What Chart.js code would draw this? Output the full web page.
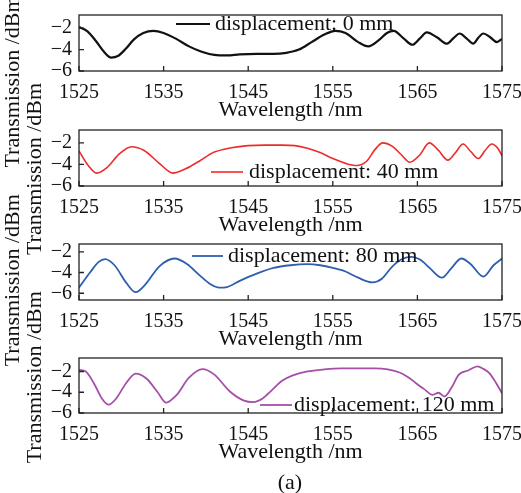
<!DOCTYPE html>
<html>
<head>
  <title>Transmission spectra</title>
  <script src="https://cdn.jsdelivr.net/npm/chart.js"></script>
  <style>
    body { margin: 0; background: #fff; }
    #wrap { position: relative; width: 521px; height: 493px; }
    #wrap canvas { position: absolute; left: 0; top: 0; }
    #cap { position: absolute; left: 240px; width: 100px; top: 469px; text-align: center;
           font: 22px "Liberation Serif"; color: #111; }
  </style>
</head>
<body>
  <div id="wrap">
    <canvas id="c0" width="521" height="493"></canvas>
    <canvas id="c1" width="521" height="493"></canvas>
    <canvas id="c2" width="521" height="493"></canvas>
    <canvas id="c3" width="521" height="493"></canvas>
    <div id="cap">(a)</div>
  </div>

  <script>
    // data
    var xTicks = [1525, 1535, 1545, 1555, 1565, 1575];
    var yTicks = [-6, -4, -2];
    var labels = ['displacement: 0 mm', 'displacement: 40 mm', 'displacement: 80 mm', 'displacement: 120 mm'];

    var wl0 = [1525, 1526, 1527, 1528, 1528.8, 1529.6, 1530.5, 1531.5, 1532.6, 1533.8, 1535, 1536.5, 1538, 1539.5, 1541, 1542.5, 1544, 1546, 1548, 1549.5, 1551, 1552.5, 1554, 1555.3, 1556.5, 1558, 1559.2, 1560.4, 1561.4, 1562.2, 1563.3, 1564.4, 1565.3, 1566.1, 1567.3, 1568.5, 1569.3, 1570.0, 1570.8, 1571.6, 1572.2, 1572.8, 1573.6, 1574.4, 1575];
    var tr0 = [-1.9, -2.3, -3.2, -4.25, -4.75, -4.6, -3.95, -3.05, -2.45, -2.25, -2.45, -3.0, -3.7, -4.2, -4.5, -4.55, -4.45, -4.4, -4.4, -4.3, -4.0, -3.3, -2.6, -2.25, -2.45, -3.3, -3.7, -3.15, -2.45, -2.25, -2.9, -3.55, -2.95, -2.4, -2.85, -3.45, -2.9, -2.5, -2.95, -3.45, -2.9, -2.5, -2.85, -3.3, -3.0];

    var wl40 = [1525, 1526, 1527.1, 1528.3, 1529.8, 1531.2, 1532.7, 1534.5, 1536.1, 1537.6, 1539.2, 1541, 1543, 1545, 1547, 1549, 1550.5, 1552, 1553.5, 1555, 1556.5, 1557.8, 1559, 1560, 1560.9, 1562, 1563.1, 1564.1, 1565.3, 1566.4, 1567.5, 1568.6, 1569.5, 1570.4, 1571.3, 1572.2, 1573, 1573.8, 1574.5, 1575];
    var tr40 = [-2.75, -4.0, -4.8, -4.3, -3.0, -2.35, -2.7, -3.9, -4.8, -4.4, -3.7, -2.85, -2.45, -2.25, -2.2, -2.2, -2.25, -2.5, -2.9, -3.45, -3.9, -4.1, -3.7, -2.6, -2.0, -2.3, -3.1, -3.8, -3.1, -2.0, -2.7, -3.6, -2.9, -2.1, -2.8, -3.45, -2.7, -2.1, -2.5, -3.2];

    var wl80 = [1525, 1526.3, 1527.3, 1528.1, 1529.2, 1530.6, 1531.7, 1532.8, 1534.5, 1536.3, 1537.8, 1539.3, 1540.5, 1541.6, 1542.5, 1544, 1546, 1548, 1550, 1552, 1553.5, 1555, 1556.5, 1558, 1559.7, 1560.8, 1562, 1563.2, 1564.3, 1565.3, 1566.5, 1567.9, 1569, 1570.2, 1571.3, 1572.8, 1574, 1575];
    var tr80 = [-5.45, -4.0, -3.0, -2.7, -3.3, -5.0, -5.9, -5.2, -3.4, -2.65, -3.2, -4.3, -5.1, -5.45, -5.4, -4.8, -4.1, -3.55, -3.3, -3.2, -3.3, -3.55, -3.9, -4.5, -4.95, -4.6, -3.45, -2.7, -2.5, -2.75, -3.6, -4.5, -3.6, -2.65, -3.2, -4.4, -3.3, -2.65];

    var wl120 = [1525, 1525.8, 1526.8, 1527.7, 1528.5, 1529.4, 1530.5, 1531.7, 1533, 1534.3, 1535.3, 1536.5, 1538, 1539.6, 1541, 1542.8, 1544.5, 1545.6, 1546.7, 1547.8, 1549, 1550.2, 1552, 1554, 1556, 1558, 1560, 1561.5, 1562.9, 1564, 1564.8, 1565.8, 1566.8, 1567.5, 1568.2, 1569, 1569.9, 1571, 1572.1, 1572.8, 1573.5, 1574.3, 1575];
    var tr120 = [-1.85, -2.0, -3.2, -4.6, -5.2, -4.6, -3.2, -2.2, -2.7, -4.0, -5.0, -4.3, -2.6, -1.77, -2.3, -3.9, -4.8, -4.95, -4.6, -3.8, -2.9, -2.4, -2.0, -1.8, -1.7, -1.7, -1.7, -1.8, -2.1, -2.6, -3.1, -3.7, -4.25, -4.05, -4.4, -3.6, -2.3, -1.9, -1.5, -1.75, -2.15, -3.1, -4.1];

    Chart.defaults.font.family = '"Liberation Serif", serif';
    Chart.defaults.color = '#111';

    // full box with inward ticks
    var frame = {
      id: 'frame',
      afterDraw: function(chart) {
        var ctx = chart.ctx, a = chart.chartArea;
        var xs = chart.scales.x, ys = chart.scales.y;
        ctx.save();
        ctx.strokeStyle = '#222';
        ctx.lineWidth = 1.3;
        ctx.strokeRect(a.left, a.top, a.right - a.left, a.bottom - a.top);
        ctx.beginPath();
        xs.ticks.forEach(function(t) {
          var px = xs.getPixelForValue(t.value);
          ctx.moveTo(px, a.bottom);
          ctx.lineTo(px, a.bottom - 5);
        });
        ys.ticks.forEach(function(t) {
          var py = ys.getPixelForValue(t.value);
          ctx.moveTo(a.left, py);
          ctx.lineTo(a.left + 5, py);
        });
        ctx.stroke();
        ctx.restore();
      }
    };

    // one-entry legend drawn inside the plot
    var legendLine = {
      id: 'legendLine',
      afterDatasetsDraw: function(chart, args, opts) {
        var ctx = chart.ctx;
        var ds = chart.data.datasets[0];
        ctx.save();
        ctx.strokeStyle = ds.borderColor;
        ctx.lineWidth = ds.borderWidth;
        ctx.beginPath();
        ctx.moveTo(opts.x, opts.y);
        ctx.lineTo(opts.x + opts.len, opts.y);
        ctx.stroke();
        ctx.fillStyle = '#111';
        ctx.font = '22px "Liberation Serif"';
        ctx.textBaseline = 'middle';
        ctx.fillText(ds.label, opts.x + opts.len + opts.gap, opts.y);
        ctx.restore();
      }
    };

    // yPad: spaces around the y title to nudge it along the axis like the original
    var panels = [
      { wl: wl0, tr: tr0, color: '#111111', lw: 2.2, yMin: -6, yMax: -0.77, top: 15, bottom: 71, padLeft: 0,
        yPad: ['', '              '], legend: { x: 176, y: 24, len: 34, gap: 5 } },
      { wl: wl40, tr: tr40, color: '#ee2b2b', lw: 1.6, yMin: -6, yMax: -0.8, top: 130, bottom: 186, padLeft: 22,
        yPad: ['', '    '], legend: { x: 211, y: 172, len: 32, gap: 6 } },
      { wl: wl80, tr: tr80, color: '#2d5fae', lw: 1.8, yMin: -6.65, yMax: -1.25, top: 244, bottom: 300, padLeft: 0,
        yPad: ['', '   '], legend: { x: 192, y: 256, len: 31, gap: 5 } },
      { wl: wl120, tr: tr120, color: '#a54fa8', lw: 1.8, yMin: -6, yMax: -0.7, top: 358, bottom: 413, padLeft: 22,
        yPad: ['   ', ''], legend: { x: 260, y: 405, len: 32, gap: 2 } }
    ];

    var xAxisH = 52;

    panels.forEach(function(p, i) {
      var points = p.wl.map(function(x, k) { return { x: x, y: p.tr[k] }; });
      new Chart(document.getElementById('c' + i), {
        type: 'line',
        data: {
          datasets: [{
            label: labels[i],
            data: points,
            borderColor: p.color,
            borderWidth: p.lw,
            pointRadius: 0,
            cubicInterpolationMode: 'monotone',
            fill: false
          }]
        },
        options: {
          responsive: false,
          animation: false,
          events: [],
          layout: { padding: { left: p.padLeft, right: 19, top: p.top, bottom: 493 - p.bottom - xAxisH } },
          plugins: {
            legend: { display: false },
            tooltip: { enabled: false },
            legendLine: p.legend
          },
          scales: {
            x: {
              type: 'linear',
              min: 1525,
              max: 1575,
              grid: { display: false, drawTicks: false },
              border: { display: false },
              afterBuildTicks: function(s) { s.ticks = xTicks.map(function(v) { return { value: v }; }); },
              afterFit: function(s) { s.height = xAxisH; s.paddingLeft = 0; s.paddingRight = 0; },
              ticks: {
                padding: 10,
                maxRotation: 0,
                font: { size: 20 },
                color: '#111',
                callback: function(v) { return String(v); }
              },
              title: { display: true, text: 'Wavelength /nm', font: { size: 22 }, color: '#111', padding: 0 }
            },
            y: {
              min: p.yMin,
              max: p.yMax,
              grid: { display: false, drawTicks: false },
              border: { display: false },
              afterBuildTicks: function(s) { s.ticks = yTicks.map(function(v) { return { value: v }; }); },
              afterFit: function(s) { s.width = 79 - p.padLeft; s.paddingTop = 0; s.paddingBottom = 0; },
              ticks: {
                padding: 7,
                font: { size: 20 },
                color: '#111',
                callback: function(v) { return (v < 0 ? '\u2212' : '') + Math.abs(v); }
              },
              title: { display: true, text: p.yPad[0] + 'Transmission /dBm' + p.yPad[1], font: { size: 22 }, color: '#111', padding: 0 }
            }
          }
        },
        plugins: [frame, legendLine]
      });
    });
  </script>
</body>
</html>
